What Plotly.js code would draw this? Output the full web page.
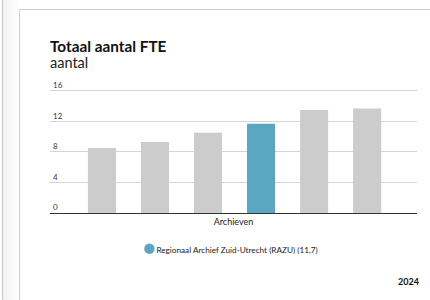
<!DOCTYPE html>
<html>
<head>
<meta charset="utf-8">
<script src="https://cdn.plot.ly/plotly-3.0.1.min.js"></script>
<style>
  html, body { margin: 0; padding: 0; background: #ffffff; }
  #wrap { position: relative; width: 430px; height: 300px; overflow: hidden; background: #fff; }
  #stripe { position: absolute; left: 2px; top: 0; width: 17px; height: 300px;
            border-left: 1px solid #c8c8c8;
            background: linear-gradient(to right, #f2f2f2, #fafafa 60%, #ffffff); }
  #card { position: absolute; left: 19px; top: 9px; width: 420px; height: 300px;
          border-left: 1px solid #cfcfcf; border-top: 1px solid #cfcfcf; background: #fff; }
  #chart { position: absolute; left: 0; top: 0; width: 430px; height: 300px; }
</style>
</head>
<body>
<div id="wrap">
  <div id="stripe"></div>
  <div id="card"></div>
  <div id="chart"></div>
</div>
<script>
const categories = ["Archief 1", "Archief 2", "Archief 3", "Regionaal Archief Zuid-Utrecht (RAZU)", "Archief 5", "Archief 6"];
const values = [8.5, 9.3, 10.5, 11.7, 13.5, 13.7];
const highlight = "Regionaal Archief Zuid-Utrecht (RAZU)";
const legendLabel = "Regionaal Archief Zuid-Utrecht (RAZU) (11,7)";
const yTicks = [0, 4, 8, 12, 16];

const grey = "#cbcccb";
const blue = "#5ba6c0";
const colors = categories.map(c => c === highlight ? blue : grey);

const font = "Lato, 'Source Sans Pro', 'Noto Sans', sans-serif";

const traces = [
  {
    type: "bar",
    x: categories,
    y: values,
    marker: { color: colors, line: { width: 0 } },
    showlegend: false,
    hoverinfo: "x+y"
  },
  {
    type: "scatter",
    mode: "markers",
    x: [highlight],
    y: [null],
    name: "<span style='font-size:21px;baseline-shift:-1.5px;fill:" + blue + "'>●</span><span style='font-size:3px'> </span>" + legendLabel,
    marker: { color: "rgba(0,0,0,0)", size: 1, symbol: "circle" },
    showlegend: true
  }
];

const layout = {
  width: 430,
  height: 300,
  margin: { l: 50, r: 13, t: 87, b: 87, pad: 0 },
  paper_bgcolor: "rgba(0,0,0,0)",
  plot_bgcolor: "rgba(0,0,0,0)",
  font: { family: font, color: "#222", size: 9 },
  bargap: 0.47,
  title: {
    text: "<b>Totaal aantal FTE</b>",
    font: { family: font, size: 15.3, color: "#111" },
    x: 50 / 430, xref: "container", xanchor: "left",
    y: 1 - 46.5 / 300, yref: "container", yanchor: "middle"
  },
  xaxis: {
    type: "category",
    range: [-0.98, 5.94],
    showticklabels: false,
    showgrid: false,
    zeroline: false,
    showline: true,
    linecolor: "#333",
    linewidth: 1,
    ticks: "",
    title: { text: "Archieven", font: { family: font, size: 9, color: "#222" }, standoff: 5 },
    fixedrange: true
  },
  yaxis: {
    range: [0, 16.5],
    tickvals: yTicks,
    ticktext: yTicks.map(String),
    ticklabelposition: "inside top",
    ticklabeloverflow: "allow",
    tickfont: { family: font, size: 8, color: "#333" },
    ticks: "",
    showgrid: true,
    gridcolor: "#d4d4d4",
    gridwidth: 1,
    zeroline: false,
    showline: false,
    fixedrange: true
  },
  legend: {
    orientation: "h",
    x: (103 - 50) / 367, xanchor: "left",
    y: (213.3 - 250) / 126.5, yanchor: "middle",
    font: { family: font, size: 8.2, color: "#222" },
    bgcolor: "rgba(0,0,0,0)"
  },
  annotations: [
    {
      text: "aantal",
      xref: "paper", yref: "paper",
      x: 0, xanchor: "left", xshift: -2,
      y: (213.3 - 62) / 126.5, yanchor: "middle",
      showarrow: false,
      font: { family: font, size: 14.5, color: "#222" }
    },
    {
      text: "<b>2024</b>",
      xref: "paper", yref: "paper",
      x: (421 - 50) / 367, xanchor: "right",
      y: (213.3 - 282) / 126.5, yanchor: "middle",
      showarrow: false,
      font: { family: font, size: 9, color: "#111" }
    }
  ]
};

Plotly.newPlot("chart", traces, layout, { displayModeBar: false, staticPlot: true });
</script>
</body>
</html>
